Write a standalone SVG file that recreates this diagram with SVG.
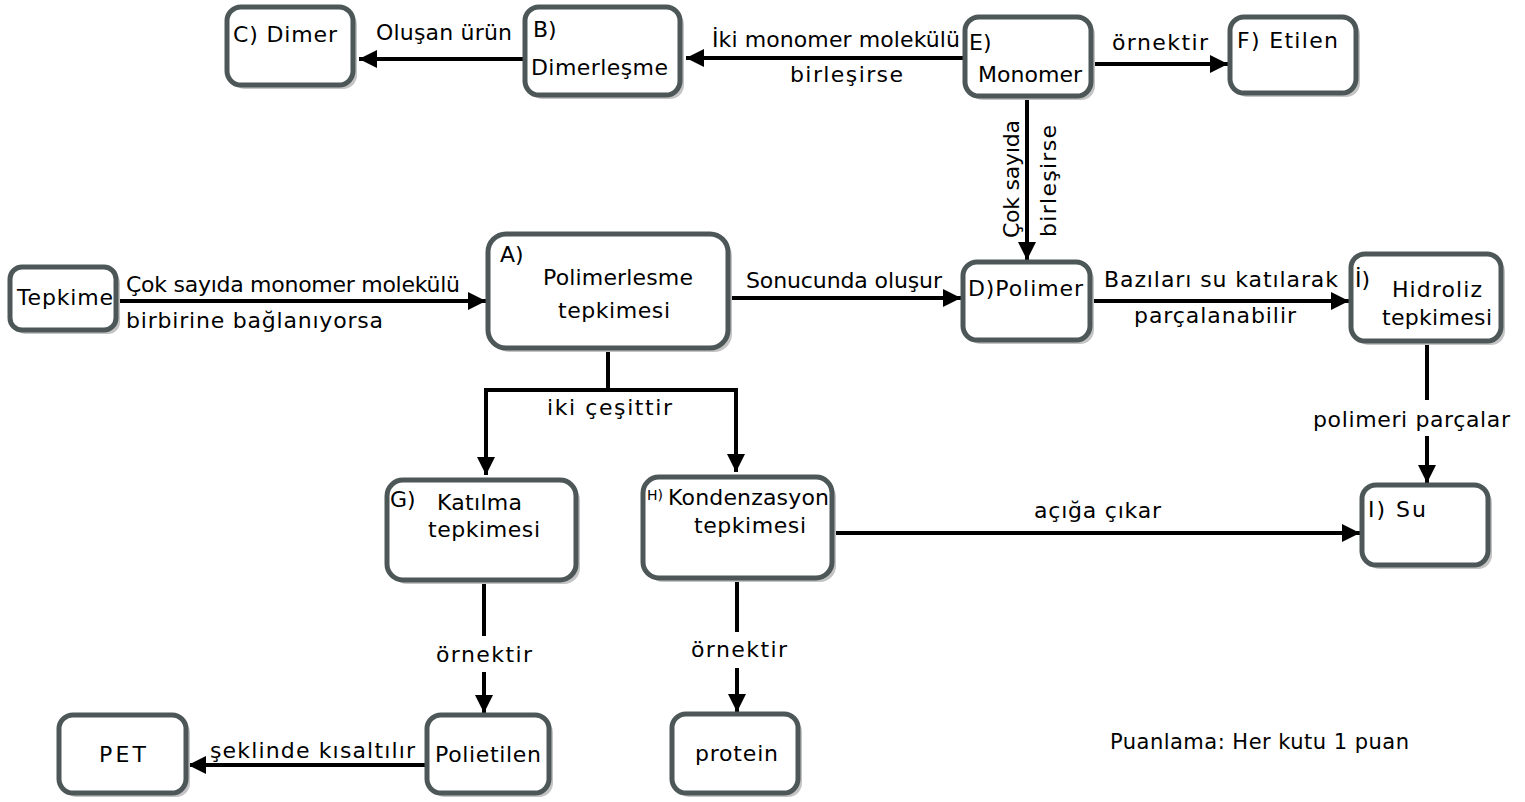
<svg xmlns="http://www.w3.org/2000/svg" width="1525" height="802" viewBox="0 0 1525 802">
<defs>
<style>
.box{fill:#ffffff;stroke:#4d5757;stroke-width:5}
.sh{fill:#c4c4c4}
text{font-family:"DejaVu Sans","Liberation Sans",sans-serif;font-size:22px;fill:#000}
.sm{font-size:14px}
.pn{font-size:21px}
.ln{fill:none;stroke:#000;stroke-width:4}
</style>
<marker id="ah" markerUnits="userSpaceOnUse" markerWidth="20" markerHeight="18" refX="18" refY="9" orient="auto">
<path d="M0,0 L18,9 L0,18 Z" fill="#000"/>
</marker>
</defs>
<rect width="1525" height="802" fill="#ffffff"/>

<g id="connectors">
<path class="ln" d="M523,59 L359,59" marker-end="url(#ah)"/>
<path class="ln" d="M963,58 L686,58" marker-end="url(#ah)"/>
<path class="ln" d="M1093,64 L1228,64" marker-end="url(#ah)"/>
<path class="ln" d="M1027,98 L1027,260" marker-end="url(#ah)"/>
<path class="ln" d="M118,301 L486,301" marker-end="url(#ah)"/>
<path class="ln" d="M730,298 L961,298" marker-end="url(#ah)"/>
<path class="ln" d="M1092,301 L1349,301" marker-end="url(#ah)"/>
<path class="ln" d="M1427,343 L1427,400"/>
<path class="ln" d="M1427,436 L1427,483" marker-end="url(#ah)"/>
<path class="ln" d="M608,350 L608,390"/>
<path class="ln" d="M484,390 L738,390"/>
<path class="ln" d="M486,390 L486,475" marker-end="url(#ah)"/>
<path class="ln" d="M736,390 L736,472" marker-end="url(#ah)"/>
<path class="ln" d="M834,533 L1360,533" marker-end="url(#ah)"/>
<path class="ln" d="M484,582 L484,636"/>
<path class="ln" d="M484,672 L484,713" marker-end="url(#ah)"/>
<path class="ln" d="M737,580 L737,632"/>
<path class="ln" d="M737,668 L737,712" marker-end="url(#ah)"/>
<path class="ln" d="M425,765 L188,765" marker-end="url(#ah)"/>
<text x="376" y="40" textLength="136">Oluşan ürün</text>
<text x="712" y="47" textLength="248">İki monomer molekülü</text>
<text x="790" y="82" textLength="113">birleşirse</text>
<text x="1112" y="50" textLength="96">örnektir</text>
<text x="1019" y="238" textLength="118" transform="rotate(-90 1019 238)">Çok sayıda</text>
<text x="1056" y="237" textLength="112" transform="rotate(-90 1056 237)">birleşirse</text>
<text x="126" y="292" textLength="334">Çok sayıda monomer molekülü</text>
<text x="126" y="328" textLength="257">birbirine bağlanıyorsa</text>
<text x="746" y="288" textLength="196">Sonucunda oluşur</text>
<text x="1104" y="287" textLength="234">Bazıları su katılarak</text>
<text x="1134" y="323" textLength="162">parçalanabilir</text>
<text x="1313" y="427" textLength="197">polimeri parçalar</text>
<text x="547" y="415" textLength="125">iki çeşittir</text>
<text x="1034" y="518" textLength="127">açığa çıkar</text>
<text x="436" y="662" textLength="96">örnektir</text>
<text x="691" y="657" textLength="96">örnektir</text>
<text x="210" y="758" textLength="205">şeklinde kısaltılır</text>
</g>

<g id="node-C">
<rect class="sh" x="231" y="11" width="126" height="78" rx="14"/>
<rect class="box" x="227" y="7" width="126" height="78" rx="14"/>
<text x="233" y="42" textLength="104">C) Dimer</text>
</g>
<g id="node-B">
<rect class="sh" x="529" y="11" width="155" height="88" rx="14"/>
<rect class="box" x="525" y="7" width="155" height="88" rx="14"/>
<text x="533" y="37">B)</text>
<text x="531" y="75" textLength="137">Dimerleşme</text>
</g>
<g id="node-E">
<rect class="sh" x="969" y="21" width="126" height="79" rx="14"/>
<rect class="box" x="965" y="17" width="126" height="79" rx="14"/>
<text x="969" y="50">E)</text>
<text x="978" y="82" textLength="104">Monomer</text>
</g>
<g id="node-F">
<rect class="sh" x="1234" y="21" width="126" height="76" rx="14"/>
<rect class="box" x="1230" y="17" width="126" height="76" rx="14"/>
<text x="1237" y="48" textLength="101">F) Etilen</text>
</g>
<g id="node-Tepkime">
<rect class="sh" x="14" y="271" width="106" height="63" rx="12"/>
<rect class="box" x="10" y="267" width="106" height="63" rx="12"/>
<text x="17" y="305" textLength="96">Tepkime</text>
</g>
<g id="node-A">
<rect class="sh" x="492" y="238" width="240" height="114" rx="18"/>
<rect class="box" x="488" y="234" width="240" height="114" rx="18"/>
<text x="500" y="262">A)</text>
<text x="543" y="285" textLength="150">Polimerlesme</text>
<text x="558" y="318" textLength="112">tepkimesi</text>
</g>
<g id="node-D">
<rect class="sh" x="967" y="266" width="127" height="78" rx="14"/>
<rect class="box" x="963" y="262" width="127" height="78" rx="14"/>
<text x="968" y="296" textLength="115">D)Polimer</text>
</g>
<g id="node-Hidroliz">
<rect class="sh" x="1355" y="258" width="150" height="87" rx="14"/>
<rect class="box" x="1351" y="254" width="150" height="87" rx="14"/>
<text x="1355" y="287">İ)</text>
<text x="1392" y="297" textLength="90">Hidroliz</text>
<text x="1382" y="325" textLength="110">tepkimesi</text>
</g>
<g id="node-G">
<rect class="sh" x="391" y="484" width="189" height="100" rx="16"/>
<rect class="box" x="387" y="480" width="189" height="100" rx="16"/>
<text x="390" y="507">G)</text>
<text x="437" y="510" textLength="85">Katılma</text>
<text x="428" y="537" textLength="112">tepkimesi</text>
</g>
<g id="node-H">
<rect class="sh" x="647" y="481" width="189" height="101" rx="16"/>
<rect class="box" x="643" y="477" width="189" height="101" rx="16"/>
<text class="sm" x="647" y="500">H)</text>
<text x="668" y="505" textLength="161">Kondenzasyon</text>
<text x="694" y="533" textLength="112">tepkimesi</text>
</g>
<g id="node-Su">
<rect class="sh" x="1366" y="489" width="126" height="80" rx="14"/>
<rect class="box" x="1362" y="485" width="126" height="80" rx="14"/>
<text x="1368" y="517" textLength="58">I) Su</text>
</g>
<g id="node-PET">
<rect class="sh" x="63" y="719" width="127" height="78" rx="14"/>
<rect class="box" x="59" y="715" width="127" height="78" rx="14"/>
<text x="99" y="762" textLength="47">PET</text>
</g>
<g id="node-Polietilen">
<rect class="sh" x="431" y="719" width="122" height="78" rx="14"/>
<rect class="box" x="427" y="715" width="122" height="78" rx="14"/>
<text x="435" y="762" textLength="106">Polietilen</text>
</g>
<g id="node-protein">
<rect class="sh" x="676" y="718" width="126" height="79" rx="14"/>
<rect class="box" x="672" y="714" width="126" height="79" rx="14"/>
<text x="695" y="761" textLength="83">protein</text>
</g>
<g id="note">
<text class="pn" x="1110" y="749" textLength="299">Puanlama: Her kutu 1 puan</text>
</g>
</svg>
